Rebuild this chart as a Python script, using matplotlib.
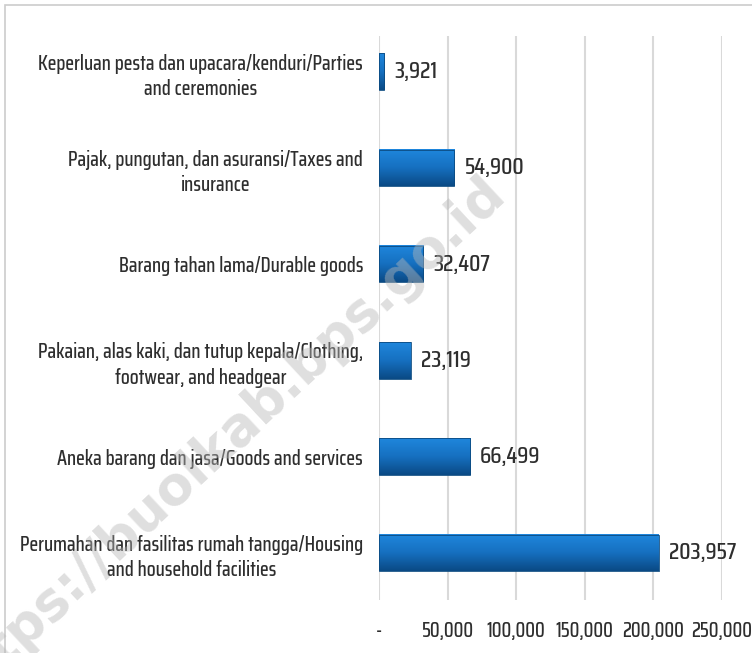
import matplotlib
matplotlib.use("Agg")
import matplotlib.pyplot as plt
import numpy as np
from matplotlib import font_manager
from matplotlib.colors import LinearSegmentedColormap
from matplotlib.patches import Rectangle
from matplotlib.textpath import TextPath
from matplotlib.font_manager import FontProperties

categories = [
    "Perumahan dan fasilitas rumah tangga/Housing\nand household facilities",
    "Aneka barang dan jasa/Goods and services",
    "Pakaian, alas kaki, dan tutup kepala/Clothing,\nfootwear, and headgear",
    "Barang tahan lama/Durable goods",
    "Pajak, pungutan, dan asuransi/Taxes and\ninsurance",
    "Keperluan pesta dan upacara/kenduri/Parties\nand ceremonies",
]
values = [203957, 66499, 23119, 32407, 54900, 3921]
xticks = [0, 50000, 100000, 150000, 200000, 250000]
xtick_labels = ["-", "50,000", "100,000", "150,000", "200,000", "250,000"]
watermark = "https://buolkab.bps.go.id"

names = {f.name for f in font_manager.fontManager.ttflist}
fam = "DejaVu Sans"
for cand in ["Saira Condensed", "Saira ExtraCondensed", "Saira Extra Condensed",
             "Barlow Condensed"]:
    if cand in names:
        fam = cand
        break
plt.rcParams["font.family"] = [fam, "DejaVu Sans"]
WEIGHT = 500

def fit_size(text, target_px, dpi=100):
    fp = FontProperties(family=[fam, "DejaVu Sans"], weight=WEIGHT, size=10)
    w = TextPath((0, 0), text, prop=fp).get_extents().width
    w_px = w * dpi / 72.0
    return 10 * target_px / w_px

lab_fs = fit_size("Perumahan dan fasilitas rumah tangga/Housing", 341)
tick_fs = fit_size("200,000", 60)
val_fs = fit_size("203,957", 66)

fig = plt.figure(figsize=(7.52, 6.53), dpi=100)
ax = fig.add_axes([379/752, 1 - 600/653, (722 - 379)/752, (600 - 36)/653])

ax.set_xlim(0, 250000)
ax.set_ylim(-0.49, 5.37)

cmap = LinearSegmentedColormap.from_list("bar", ["#0a4a85", "#1670c0", "#1f86dc"])
grad = np.linspace(0, 1, 64).reshape(-1, 1)
h = 0.38
ypos = np.arange(len(values))
for y, v in zip(ypos, values):
    ax.imshow(grad, cmap=cmap, origin="lower", aspect="auto",
              extent=[0, v, y - h/2, y + h/2], zorder=3, interpolation="bilinear")
    ax.add_patch(Rectangle((0, y - h/2), v, h, fill=False, edgecolor="#0b4a80",
                           linewidth=0.6, zorder=4))
    ax.annotate(f"{v:,}", xy=(v, y), xytext=(10, 0), textcoords="offset pixels",
                va="center", ha="left", fontsize=val_fs, fontweight=WEIGHT,
                color="#2e2e2e", zorder=5)

ax.set_yticks(ypos)
ax.set_yticklabels(categories, fontsize=lab_fs, fontweight=WEIGHT, color="#2e2e2e",
                   multialignment="center", linespacing=1.35)
ax.set_xticks(xticks)
ax.set_xticklabels(xtick_labels, fontsize=tick_fs, fontweight=WEIGHT, color="#2e2e2e")
ax.tick_params(axis="both", length=0)
ax.tick_params(axis="y", pad=11.5)
ax.tick_params(axis="x", pad=15)
ax.grid(axis="x", color="#d9d9d9", linewidth=1.5, zorder=0)
ax.set_axisbelow(True)
for s in ax.spines.values():
    s.set_visible(False)

# figure border
fig.patches.append(Rectangle((5/752, -0.05), 1.2, 1 - 5/653 + 0.05,
                             transform=fig.transFigure, fill=False,
                             edgecolor="#cccccc", linewidth=1.2))

fig.text(223/752, 1 - 441/653, watermark, rotation=43, ha="center", va="center",
         rotation_mode="anchor",
         fontsize=38, fontweight="bold", color="#b8b8b8", alpha=0.45,
         family="DejaVu Sans", zorder=10)

fig.savefig("out.png", dpi=100)
